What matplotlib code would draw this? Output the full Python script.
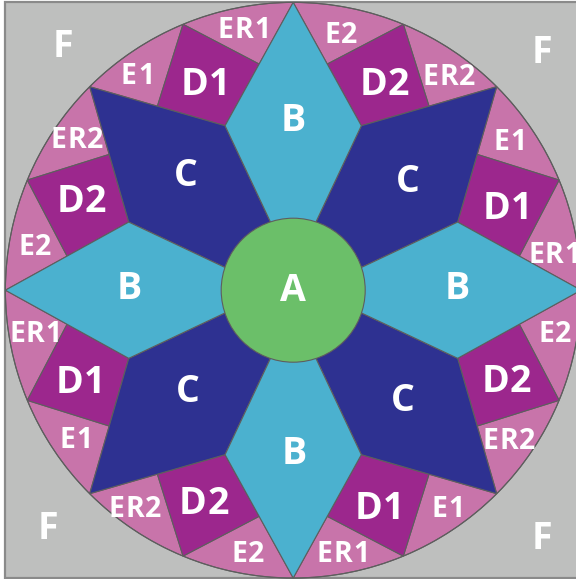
import numpy as np
import matplotlib
matplotlib.use("Agg")
import matplotlib.pyplot as plt
from matplotlib.patches import Polygon, Circle, Rectangle
from matplotlib.font_manager import FontProperties
from matplotlib.textpath import TextToPath

# ---------------- data ----------------
tip_angles = [0, 45, 90, 135, 180, 225, 270, 315]          # star points (deg)
tip_kinds = ["B", "C", "B", "C", "B", "C", "B", "C"]
sector_from_B = ["ER1", "D1", "E1"]   # near B tip, middle, near C tip
sector_from_C = ["ER2", "D2", "E2"]   # near C tip, middle, near B tip

# label layout (text, x, y) in pixel space of the picture
big_labels = [
    ("A", 293.3, 287.5),
    ("B", 293.5, 118.0), ("B", 128.8, 286.0), ("B", 457.0, 286.0), ("B", 293.8, 450.7),
    ("C", 185.8, 172.5), ("C", 408.0, 179.0), ("C", 188.0, 389.0), ("C", 403.0, 397.3),
    ("F", 63.0, 43.3), ("F", 541.8, 49.2), ("F", 48.3, 525.7), ("F", 542.0, 535.3),
    ("D1", 205.0, 81.7), ("D2", 384.0, 81.7), ("D2", 81.3, 198.3), ("D1", 507.7, 205.8),
    ("D1", 80.8, 379.8), ("D2", 506.3, 379.0), ("D2", 203.8, 500.7), ("D1", 379.5, 505.7),
]
small_labels = [
    ("ER1", 243.7, 27.5), ("E2", 340.7, 32.8), ("E1", 137.5, 74.0), ("ER2", 449.0, 75.0),
    ("ER2", 76.7, 138.3), ("E1", 509.8, 140.0), ("E2", 35.0, 245.0), ("ER1", 554.5, 252.5),
    ("ER1", 35.5, 332.3), ("E2", 554.8, 332.3), ("E1", 75.8, 438.2), ("ER2", 509.0, 439.0),
    ("ER2", 135.0, 507.3), ("E1", 447.7, 506.8), ("E2", 247.8, 552.3), ("ER1", 342.7, 551.7),
]

# ---------------- geometry / style ----------------
cx, cy = 293.2, 290.2
R = 287.8
r_side = 178.0
r_A = 72.0
r_B_in = 20.0
r_C_in = -25.2

col_bg = "#bebfbe"
col_E = "#c874aa"
col_D = "#9c278d"
col_C = "#2e3191"
col_B = "#4bb1cf"
col_A = "#6bbf69"
col_line = "#5e5e5e"
lw = 0.8


def pt(r, a):
    t = np.deg2rad(a)
    return np.array([cx + r * np.cos(t), cy - r * np.sin(t)])


def arc(a0, a1, n=60):
    return [pt(R, a) for a in np.linspace(a0, a1, n)]


fig = plt.figure(figsize=(5.76, 5.79), dpi=100)
ax = fig.add_axes([0, 0, 1, 1])
ax.set_xlim(0, 576)
ax.set_ylim(579, 0)
ax.axis("off")

ax.add_patch(Rectangle((5, 2), 576, 576, facecolor=col_bg, edgecolor="#8a8a8a", lw=1.6, zorder=0))

# outer ring pieces
for i, a in enumerate(tip_angles):
    b = a + 45
    tipA = pt(R, a)
    tipB = pt(R, b)
    P = pt(r_side, a + 22.5)
    Q = pt(R, a + 22.5)
    Ma = (P + tipA) / 2
    Mb = (P + tipB) / 2
    e1 = [Ma, tipA] + arc(a, a + 22.5) + [Q]
    e2 = [Mb, Q] + arc(a + 22.5, b) + [tipB]
    for poly in (e1, e2):
        ax.add_patch(Polygon(poly, closed=True, facecolor=col_E, edgecolor=col_line, lw=lw, zorder=1))
    ax.add_patch(Polygon([P, Ma, Q, Mb], closed=True, facecolor=col_D, edgecolor=col_line, lw=lw, zorder=2))

ax.add_patch(Circle((cx, cy), R, facecolor="none", edgecolor=col_line, lw=lw, zorder=2))

# C diamonds then B diamonds
for kind_draw in ("C", "B"):
    for a, k in zip(tip_angles, tip_kinds):
        if k != kind_draw:
            continue
        tip = pt(R, a)
        s1 = pt(r_side, a + 22.5)
        s2 = pt(r_side, a - 22.5)
        inner = pt(r_B_in if k == "B" else r_C_in, a)
        ax.add_patch(Polygon([tip, s1, inner, s2], closed=True,
                             facecolor=col_B if k == "B" else col_C,
                             edgecolor=col_line, lw=lw, zorder=3 if k == "C" else 4))

ax.add_patch(Circle((cx, cy), r_A, facecolor=col_A, edgecolor=col_line, lw=lw, zorder=5))

# ---------------- labels (with slight letter tracking) ----------------
family = ["Open Sans", "DejaVu Sans"]
ttp = TextToPath()
PX_PER_PT = 100.0 / 72.0


def tracked_text(s, x, y_center, size, cap_px, track_px):
    fp = FontProperties(family=family, weight="bold", size=size)
    advs = []
    for ch in s:
        w, h, d = ttp.get_text_width_height_descent(ch, fp, ismath=False)
        advs.append(w * PX_PER_PT)
    total = sum(advs) + track_px * (len(s) - 1)
    xx = x - total / 2
    for ch, adv in zip(s, advs):
        ax.text(xx, y_center + cap_px / 2, ch, ha="left", va="baseline", color="white",
                fontproperties=fp, zorder=10)
        xx += adv + track_px


big_size = 27
small_size = 20.5
for txt, x, y in big_labels:
    tracked_text(txt, x, y, big_size, 0.714 * big_size * PX_PER_PT, 0.5)
for txt, x, y in small_labels:
    tracked_text(txt, x, y, small_size, 0.714 * small_size * PX_PER_PT, 1.0)

fig.savefig("out.png", dpi=100, facecolor="white")
